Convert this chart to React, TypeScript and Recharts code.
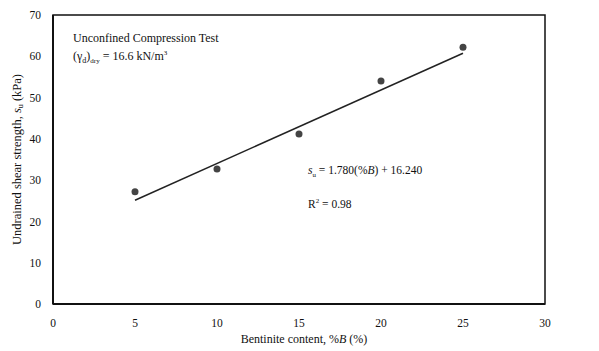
import React from 'react';
import {
  ComposedChart,
  Scatter,
  Line,
  XAxis,
  YAxis,
  ReferenceArea,
  Label,
} from 'recharts';

const bentonite = [5, 10, 15, 20, 25];
const strength = [27.2, 32.7, 41.2, 54.0, 62.2];

// fitted line su = 1.780(%B) + 16.240
const slope = 1.78;
const intercept = 16.24;
const fitRange = [5, 25];

const xTicks = [0, 5, 10, 15, 20, 25, 30];
const yTicks = [0, 10, 20, 30, 40, 50, 60, 70];

const points = bentonite.map((x, i) => ({ x, y: strength[i] }));
const fitLine = fitRange.map((x) => ({ x, fit: slope * x + intercept }));

const FONT = '"Liberation Serif", "DejaVu Serif", serif';
const INK = '#111';

const YLabel = (props: any) => {
  const { viewBox } = props;
  const cx = 17;
  const cy = viewBox.y + viewBox.height / 2;
  return (
    <text
      x={cx}
      y={cy}
      transform={`rotate(-90, ${cx}, ${cy})`}
      textAnchor="middle"
      dominantBaseline="central"
      fontFamily={FONT}
      fontSize={12.5}
      fill={INK}
    >
      Undrained shear strength,{' '}
      <tspan fontStyle="italic">s</tspan>
      <tspan fontSize={8} dy={3}>u</tspan>
      <tspan dy={-3}>{'  '}(kPa)</tspan>
    </text>
  );
};

const XLabel = (props: any) => {
  const { viewBox } = props;
  const cx = viewBox.x + viewBox.width / 2;
  return (
    <text
      x={cx + 5}
      y={343}
      textAnchor="middle"
      fontFamily={FONT}
      fontSize={12}
      fill={INK}
    >
      Bentinite content, %<tspan fontStyle="italic">B</tspan>  (%)
    </text>
  );
};

const note: React.CSSProperties = {
  position: 'absolute',
  fontFamily: FONT,
  fontSize: 12,
  color: INK,
  whiteSpace: 'nowrap',
  lineHeight: 1,
};

export default function App() {
  return (
    <div style={{ position: 'absolute', left: 0, top: 0, width: 599, height: 351, background: '#fff' }}>
      <ComposedChart
        width={599}
        height={351}
        data={points}
        margin={{ top: 15, right: 54, bottom: 0, left: 0 }}
      >
        <XAxis
          type="number"
          dataKey="x"
          domain={[0, 30]}
          ticks={xTicks}
          tickLine={false}
          axisLine={{ stroke: INK, strokeWidth: 2 }}
          tick={{ fill: INK, fontSize: 11.5, fontFamily: FONT }}
          tickMargin={9}
          height={47}
        >
          <Label content={<XLabel />} />
        </XAxis>
        <YAxis
          type="number"
          domain={[0, 70]}
          ticks={yTicks}
          tickLine={false}
          axisLine={{ stroke: INK, strokeWidth: 2 }}
          tick={{ fill: INK, fontSize: 11.5, fontFamily: FONT }}
          tickMargin={6}
          width={53}
        >
          <Label content={<YLabel />} />
        </YAxis>
        <ReferenceArea
          x1={0}
          x2={30}
          y1={0}
          y2={70}
          fill="none"
          stroke={INK}
          strokeWidth={1.5}
        />
        <Line
          data={fitLine}
          dataKey="fit"
          type="linear"
          stroke="#222"
          strokeWidth={1.5}
          dot={false}
          isAnimationActive={false}
        />
        <Scatter
          dataKey="y"
          fill="#444"
          shape={(p: any) => <circle cx={p.cx} cy={p.cy} r={3.5} fill="#444" />}
          isAnimationActive={false}
        />
      </ComposedChart>
      <div style={{ ...note, left: 73, top: 32 }}>Unconfined Compression Test</div>
      <div style={{ ...note, left: 73, top: 50 }}>
        (γ<sub style={{ fontSize: 8 }}>d</sub>)<sub style={{ fontSize: 7 }}>dry</sub> = 16.6 kN/m<sup style={{ fontSize: 7 }}>3</sup>
      </div>
      <div style={{ ...note, left: 308, top: 165, fontSize: 11.5 }}>
        <i>s</i><sub style={{ fontSize: 7 }}>u</sub> = 1.780(%<i>B</i>) + 16.240
      </div>
      <div style={{ ...note, left: 308, top: 198, fontSize: 11.5 }}>
        R<sup style={{ fontSize: 7 }}>2</sup> = 0.98
      </div>
    </div>
  );
}
